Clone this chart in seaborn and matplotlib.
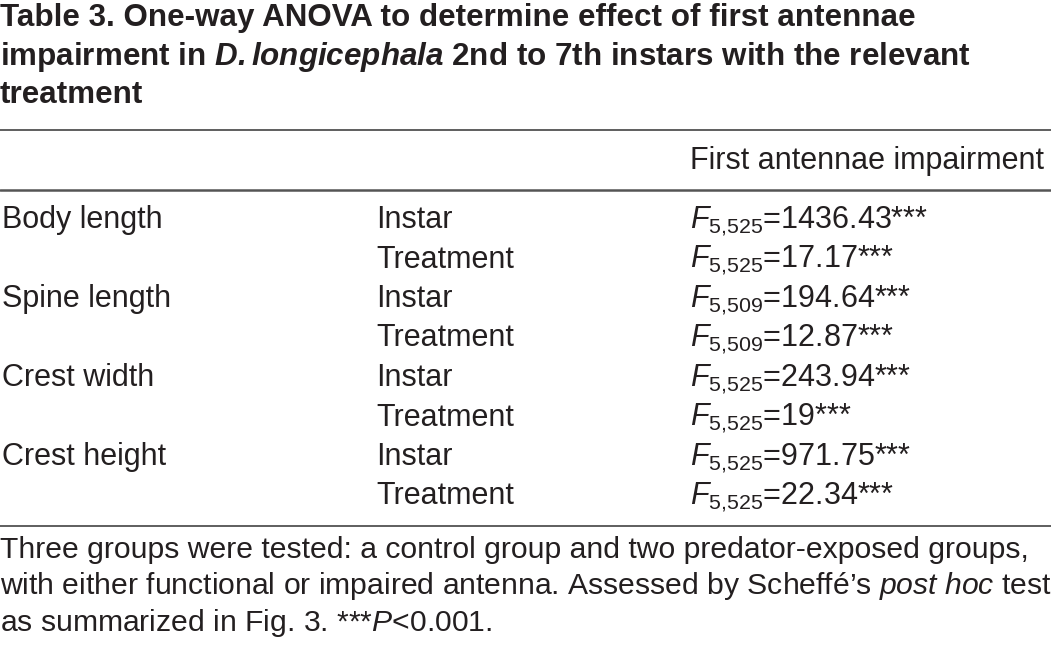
import numpy as np
import pandas as pd
import seaborn as sns
import matplotlib.pyplot as plt

# table values
measures = ['Body length', 'Spine length', 'Crest width', 'Crest height']
sources = ['Instar', 'Treatment']
df_num = 5
df_den = [525, 525, 509, 509, 525, 525, 525, 525]
f_values = ['1436.43', '17.17', '194.64', '12.87', '243.94', '19', '971.75', '22.34']
col_header = 'First antennae impairment'

title_lines = [
    'Table 3. One-way ANOVA to determine effect of first antennae',
    r'impairment in $\mathbfit{D.longicephala}$ 2nd to 7th instars with the relevant',
    'treatment',
]
note_lines = [
    'Three groups were tested: a control group and two predator-exposed groups,',
    r'with either functional or impaired antenna. Assessed by Scheffé’s $\mathit{post\ hoc}$ test',
    r'as summarized in Fig. 3. ***$\mathit{P}$<0.001.',
]

sns.set_theme(style='white')
plt.rcParams['font.family'] = ['Liberation Sans', 'DejaVu Sans']
plt.rcParams['mathtext.fontset'] = 'custom'
plt.rcParams['mathtext.rm'] = 'Liberation Sans'
plt.rcParams['mathtext.it'] = 'Liberation Sans:italic'
plt.rcParams['mathtext.bf'] = 'Liberation Sans:bold'
plt.rcParams['mathtext.bfit'] = 'Liberation Sans:bold:italic'

ink = '#231f20'
fig = plt.figure(figsize=(10.51, 6.46), dpi=100)
ax = fig.add_axes([0, 0, 1, 1])
ax.set_xlim(0, 1051)
ax.set_ylim(646, 0)
ax.axis('off')

# title
for i, line in enumerate(title_lines):
    ax.text(0, 26 + 38.5 * i, line, fontsize=22.6, fontweight='bold',
            color=ink, va='baseline', ha='left')

# rules
ax.axhline(130, color='#333333', lw=1.1)
ax.axhline(190, color='#555555', lw=1.8)
ax.axhline(526, color='#333333', lw=1.1)

ax.text(690, 169, col_header, fontsize=22, color=ink, va='baseline')

row = 0
for m in measures:
    for s in sources:
        y = 228 + 39.5 * row
        if s == sources[0]:
            ax.text(2, y, m, fontsize=22, color=ink, va='baseline')
        ax.text(376, y, s, fontsize=22, color=ink, va='baseline')
        label = r'$\mathit{F}_{\mathrm{%d{,}%d}}$=%s***' % (df_num, df_den[row], f_values[row])
        ax.text(690, y, label, fontsize=22, color=ink, va='baseline')
        row += 1

# footnote
for i, line in enumerate(note_lines):
    ax.text(0, 558 + 36.5 * i, line, fontsize=21.7, color=ink,
            va='baseline', ha='left')

fig.savefig('out.png', dpi=100)
